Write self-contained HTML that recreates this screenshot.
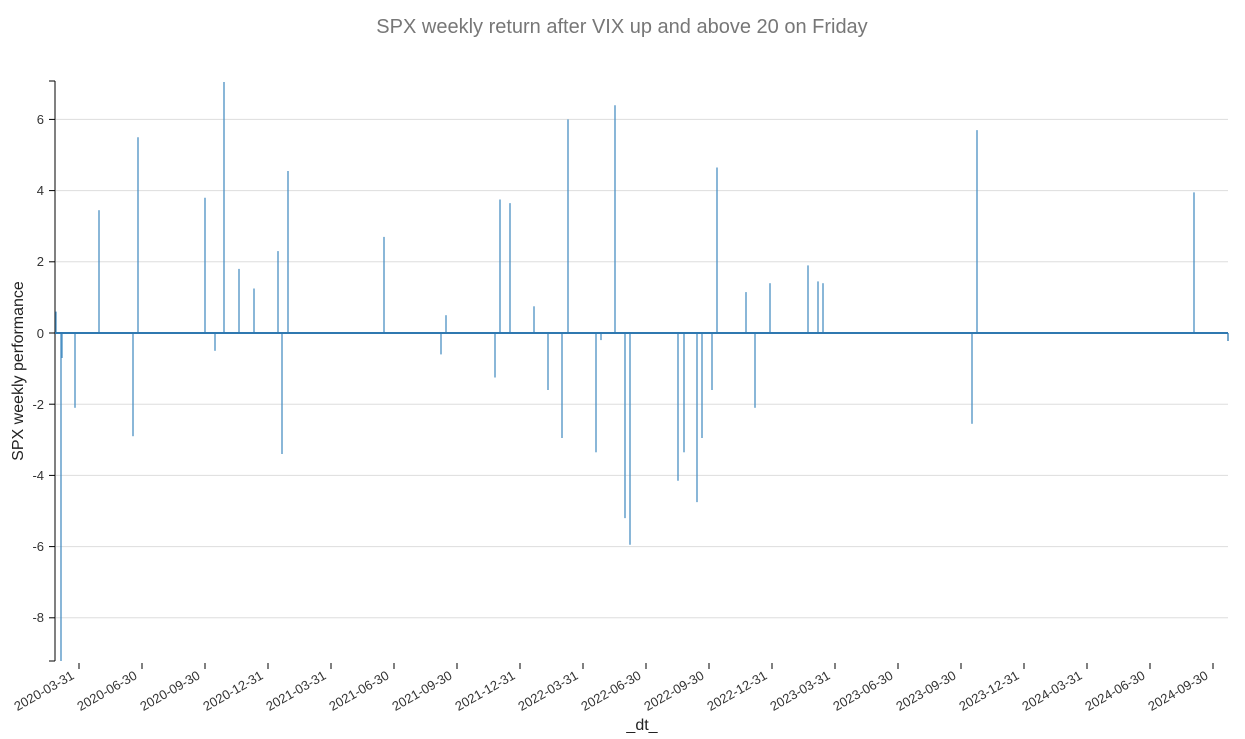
<!DOCTYPE html>
<html><head><meta charset="utf-8"><style>body{margin:0;background:#fff}svg{display:block;font-family:"Liberation Sans",sans-serif}</style></head><body>
<svg width="1245" height="739" xmlns="http://www.w3.org/2000/svg">
<text x="622" y="33" text-anchor="middle" font-size="20" fill="#777">SPX weekly return after VIX up and above 20 on Friday</text>
<g stroke="#ddd" stroke-width="1">
<line x1="56" x2="1228" y1="119.4" y2="119.4"/><line x1="56" x2="1228" y1="190.6" y2="190.6"/><line x1="56" x2="1228" y1="261.8" y2="261.8"/><line x1="56" x2="1228" y1="404.2" y2="404.2"/><line x1="56" x2="1228" y1="475.4" y2="475.4"/><line x1="56" x2="1228" y1="546.6" y2="546.6"/><line x1="56" x2="1228" y1="617.8" y2="617.8"/>
</g>
<g font-size="13" fill="#333" text-anchor="end">
<text x="44" y="124">6</text><text x="44" y="195">4</text><text x="44" y="266">2</text><text x="44" y="338">0</text><text x="44" y="409">-2</text><text x="44" y="480">-4</text><text x="44" y="551">-6</text><text x="44" y="622">-8</text>
</g>
<g stroke="#000" stroke-width="1">
<line x1="55" x2="55" y1="81" y2="661"/><line x1="49" x2="55" y1="81" y2="81"/><line x1="49" x2="55" y1="661" y2="661"/>
<line x1="49" x2="55" y1="119.4" y2="119.4"/><line x1="49" x2="55" y1="190.6" y2="190.6"/><line x1="49" x2="55" y1="261.8" y2="261.8"/><line x1="49" x2="55" y1="333" y2="333"/><line x1="49" x2="55" y1="404.2" y2="404.2"/><line x1="49" x2="55" y1="475.4" y2="475.4"/><line x1="49" x2="55" y1="546.6" y2="546.6"/><line x1="49" x2="55" y1="617.8" y2="617.8"/>
</g>
<text transform="translate(23,371) rotate(-90)" text-anchor="middle" font-size="16" fill="#222">SPX weekly performance</text>
<text x="642" y="730" text-anchor="middle" font-size="16" fill="#222">_dt_</text>
<g stroke="#000">
<line x1="79" x2="79" y1="663" y2="669"/><line x1="142" x2="142" y1="663" y2="669"/><line x1="205" x2="205" y1="663" y2="669"/><line x1="268" x2="268" y1="663" y2="669"/><line x1="331" x2="331" y1="663" y2="669"/><line x1="394" x2="394" y1="663" y2="669"/><line x1="457" x2="457" y1="663" y2="669"/><line x1="520" x2="520" y1="663" y2="669"/><line x1="583" x2="583" y1="663" y2="669"/><line x1="646" x2="646" y1="663" y2="669"/><line x1="709" x2="709" y1="663" y2="669"/><line x1="772" x2="772" y1="663" y2="669"/><line x1="835" x2="835" y1="663" y2="669"/><line x1="898" x2="898" y1="663" y2="669"/><line x1="961" x2="961" y1="663" y2="669"/><line x1="1024" x2="1024" y1="663" y2="669"/><line x1="1087" x2="1087" y1="663" y2="669"/><line x1="1150" x2="1150" y1="663" y2="669"/><line x1="1213" x2="1213" y1="663" y2="669"/>
</g>
<g font-size="13" fill="#333" text-anchor="end">
<text transform="translate(75,678) rotate(-30)">2020-03-31</text>
<text transform="translate(138,678) rotate(-30)">2020-06-30</text>
<text transform="translate(201,678) rotate(-30)">2020-09-30</text>
<text transform="translate(264,678) rotate(-30)">2020-12-31</text>
<text transform="translate(327,678) rotate(-30)">2021-03-31</text>
<text transform="translate(390,678) rotate(-30)">2021-06-30</text>
<text transform="translate(453,678) rotate(-30)">2021-09-30</text>
<text transform="translate(516,678) rotate(-30)">2021-12-31</text>
<text transform="translate(579,678) rotate(-30)">2022-03-31</text>
<text transform="translate(642,678) rotate(-30)">2022-06-30</text>
<text transform="translate(705,678) rotate(-30)">2022-09-30</text>
<text transform="translate(768,678) rotate(-30)">2022-12-31</text>
<text transform="translate(831,678) rotate(-30)">2023-03-31</text>
<text transform="translate(894,678) rotate(-30)">2023-06-30</text>
<text transform="translate(957,678) rotate(-30)">2023-09-30</text>
<text transform="translate(1020,678) rotate(-30)">2023-12-31</text>
<text transform="translate(1083,678) rotate(-30)">2024-03-31</text>
<text transform="translate(1146,678) rotate(-30)">2024-06-30</text>
<text transform="translate(1209,678) rotate(-30)">2024-09-30</text>
</g>
<g stroke="#4a90c4" stroke-width="1.3">
<line x1="56" x2="56" y1="333" y2="311.6"/>
<line x1="61" x2="61" y1="333" y2="661"/>
<line x1="62" x2="62" y1="333" y2="358"/>
<line x1="75" x2="75" y1="333" y2="407.8"/>
<line x1="99" x2="99" y1="333" y2="210.2"/>
<line x1="133" x2="133" y1="333" y2="436.2"/>
<line x1="138" x2="138" y1="333" y2="137.2"/>
<line x1="205" x2="205" y1="333" y2="197.7"/>
<line x1="215" x2="215" y1="333" y2="350.8"/>
<line x1="224" x2="224" y1="333" y2="82"/>
<line x1="239" x2="239" y1="333" y2="268.9"/>
<line x1="254" x2="254" y1="333" y2="288.5"/>
<line x1="278" x2="278" y1="333" y2="251.1"/>
<line x1="282" x2="282" y1="333" y2="454"/>
<line x1="288" x2="288" y1="333" y2="171"/>
<line x1="384" x2="384" y1="333" y2="236.9"/>
<line x1="441" x2="441" y1="333" y2="354.4"/>
<line x1="446" x2="446" y1="333" y2="315.2"/>
<line x1="495" x2="495" y1="333" y2="377.5"/>
<line x1="500" x2="500" y1="333" y2="199.5"/>
<line x1="510" x2="510" y1="333" y2="203.1"/>
<line x1="534" x2="534" y1="333" y2="306.3"/>
<line x1="548" x2="548" y1="333" y2="390"/>
<line x1="562" x2="562" y1="333" y2="438"/>
<line x1="568" x2="568" y1="333" y2="119.4"/>
<line x1="596" x2="596" y1="333" y2="452.3"/>
<line x1="601" x2="601" y1="333" y2="340.1"/>
<line x1="615" x2="615" y1="333" y2="105.2"/>
<line x1="625" x2="625" y1="333" y2="518.1"/>
<line x1="630" x2="630" y1="333" y2="544.8"/>
<line x1="678" x2="678" y1="333" y2="480.7"/>
<line x1="684" x2="684" y1="333" y2="452.3"/>
<line x1="697" x2="697" y1="333" y2="502.1"/>
<line x1="702" x2="702" y1="333" y2="438"/>
<line x1="712" x2="712" y1="333" y2="390"/>
<line x1="717" x2="717" y1="333" y2="167.5"/>
<line x1="746" x2="746" y1="333" y2="292.1"/>
<line x1="755" x2="755" y1="333" y2="407.8"/>
<line x1="770" x2="770" y1="333" y2="283.2"/>
<line x1="808" x2="808" y1="333" y2="265.4"/>
<line x1="818" x2="818" y1="333" y2="281.4"/>
<line x1="823" x2="823" y1="333" y2="283.2"/>
<line x1="972" x2="972" y1="333" y2="423.8"/>
<line x1="977" x2="977" y1="333" y2="130.1"/>
<line x1="1194" x2="1194" y1="333" y2="192.4"/>
</g>
<line x1="55" x2="1228" y1="333" y2="333" stroke="#2f78b0" stroke-width="2"/>
<line x1="1228" x2="1228" y1="333" y2="341" stroke="#2f78b0" stroke-width="1.3"/>
</svg>
</body></html>
